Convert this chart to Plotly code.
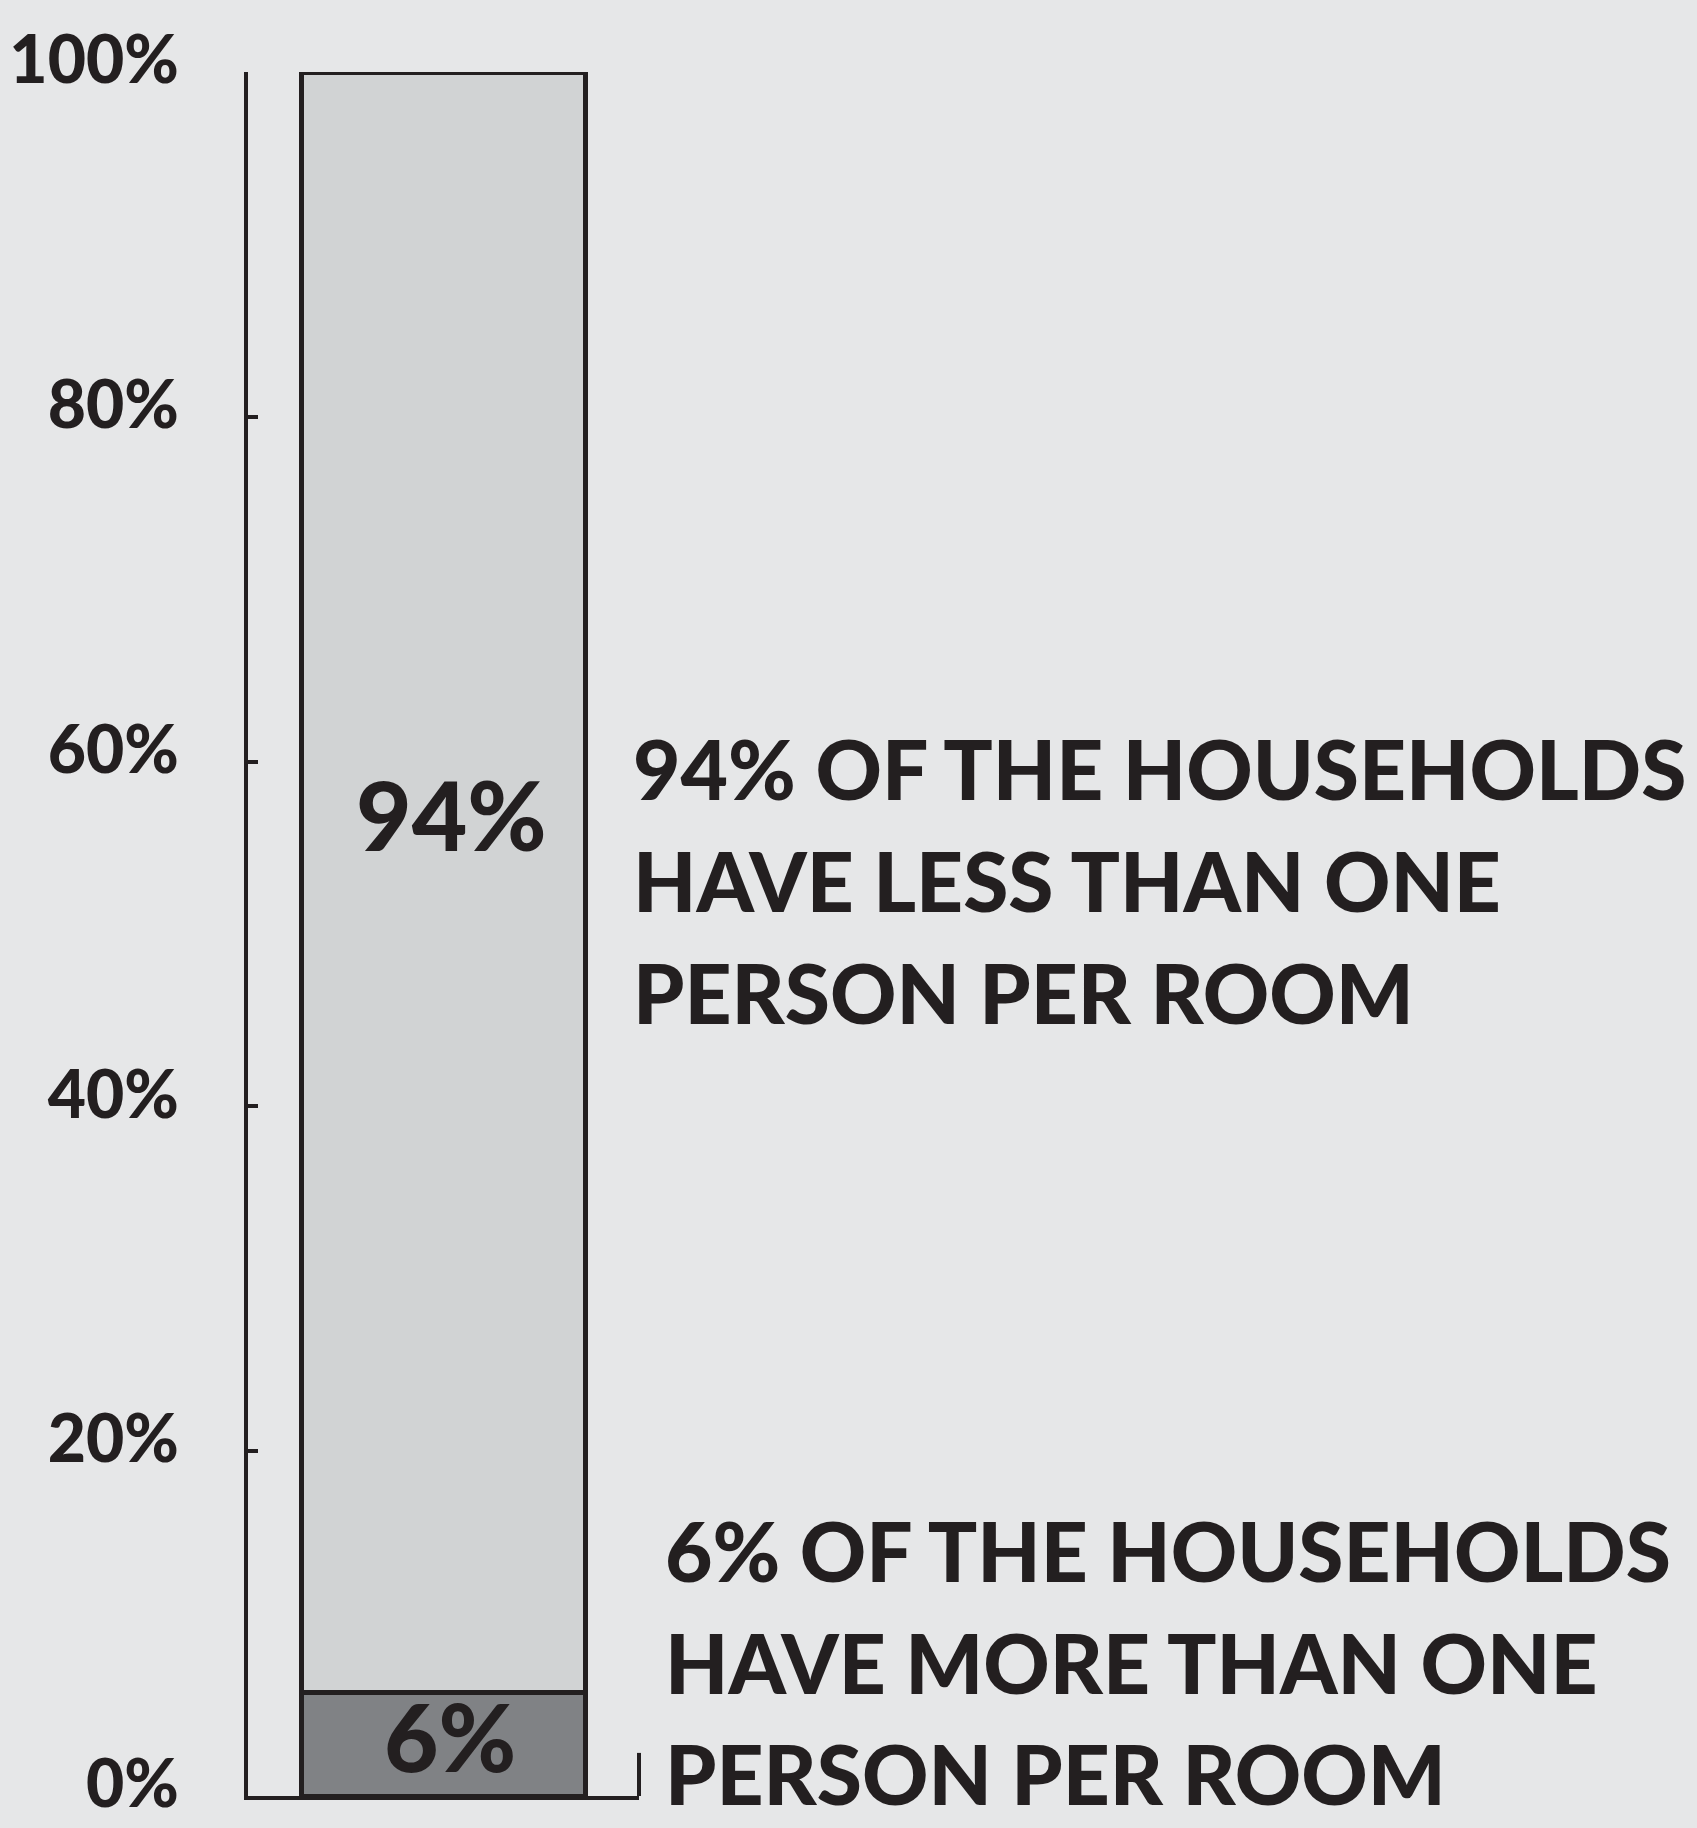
import plotly.graph_objects as go

# ---- data ----
categories = ["Households"]
share_more = [6]    # % households with more than one person per room
share_less = [94]   # % households with less than one person per room
tick_values = [0, 20, 40, 60, 80, 100]
tick_labels = ["0%", "20%", "40%", "60%", "80%", "100%"]
label_less = ["94% OF THE HOUSEHOLDS", "HAVE LESS THAN ONE", "PERSON PER ROOM"]
label_more = ["6% OF THE HOUSEHOLDS", "HAVE MORE THAN ONE", "PERSON PER ROOM"]

W, H = 1697, 1828
BG = "#E6E7E8"
INK = "#231F20"
FONT = "Lato Black, Lato"

fig = go.Figure()
fig.add_trace(go.Bar(x=categories, y=share_more, marker=dict(color="#808285", line=dict(color=INK, width=5)),
                     width=0.726, hoverinfo="skip"))
fig.add_trace(go.Bar(x=categories, y=share_less, marker=dict(color="#D1D3D4", line=dict(color=INK, width=5)),
                     width=0.726, hoverinfo="skip"))

def px_x(p):
    return p / W

def px_y(p):
    return 1 - p / H

fig.update_layout(
    width=W, height=H, barmode="stack", showlegend=False,
    paper_bgcolor=BG, plot_bgcolor=BG,
    margin=dict(l=0, r=0, t=0, b=0, autoexpand=False),
    font=dict(family=FONT, color=INK, weight=900),
    xaxis=dict(domain=[px_x(248), px_x(639)], range=[-0.5, 0.5], showline=True, linecolor=INK,
               linewidth=4, showticklabels=False, ticks="", showgrid=False, zeroline=False,
               fixedrange=True, automargin=False),
    yaxis=dict(domain=[px_y(1796), px_y(72)], range=[0, 100], showline=True, linecolor=INK, linewidth=4,
               tickvals=tick_values, ticktext=tick_labels, ticks="inside", ticklen=10, tickwidth=4,
               tickcolor=INK, showgrid=False, zeroline=False,
               tickfont=dict(family=FONT, size=66, color=INK, weight=900),
               ticklabelstandoff=52, ticklabelshift=-12, fixedrange=True, automargin=False),
)

# small end tick at right of baseline
fig.add_shape(type="line", xref="x domain", yref="y domain", x0=1, x1=1, y0=0, y1=0.025,
              line=dict(color=INK, width=4))

# labels inside bar segments
fig.add_annotation(x=categories[0], y=57, xref="x", yref="y", text=f"{share_less[0]}%", showarrow=False,
                   xshift=8, font=dict(family=FONT, size=96, color=INK, weight=900))
fig.add_annotation(x=categories[0], y=3.5, xref="x", yref="y", text=f"{share_more[0]}%", showarrow=False,
                   xshift=6, font=dict(family=FONT, size=94, color=INK, weight=900))

# side text blocks
for i, line in enumerate(label_less):
    fig.add_annotation(x=px_x(631), y=px_y(768 + 112 * i), xref="paper", yref="paper", text=line,
                       showarrow=False, xanchor="left", yanchor="middle",
                       font=dict(family=FONT, size=82, color=INK, weight=900))
for i, line in enumerate(label_more):
    fig.add_annotation(x=px_x(663), y=px_y(1550 + 111.5 * i), xref="paper", yref="paper", text=line,
                       showarrow=False, xanchor="left", yanchor="middle",
                       font=dict(family=FONT, size=82, color=INK, weight=900))

fig.write_html("out.html", config={"displayModeBar": False},
               post_script="document.body.style.margin='0';document.body.style.background='#E6E7E8';")
